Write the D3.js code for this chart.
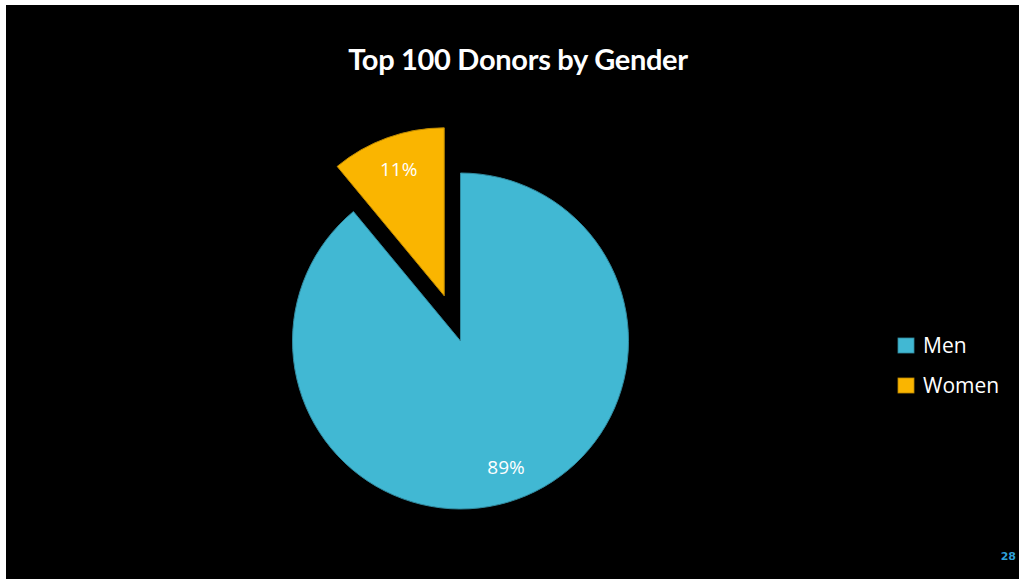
<!DOCTYPE html>
<html>
<head>
<meta charset="utf-8">
<script src="https://cdn.jsdelivr.net/npm/d3@7"></script>
<style>
  html, body { margin: 0; padding: 0; background: #ffffff; }
  svg { display: block; }
</style>
</head>
<body>
<svg id="chart" width="1019" height="579"></svg>
<script>
// Gender split of the top 100 donors
const categories = ["Men", "Women"];
const shares = [89, 11];
const sliceColors = ["#41B8D3", "#FAB500"];
const titleText = "Top 100 Donors by Gender";
const pageNumber = "28";

const W = 1019, H = 579;
const svg = d3.select("#chart");

// slide background
svg.append("rect").attr("x", 6).attr("y", 5).attr("width", W - 6).attr("height", H - 5).attr("fill", "#000");

svg.append("text")
  .attr("x", 518).attr("y", 70)
  .attr("text-anchor", "middle")
  .attr("font-family", "Lato, 'Open Sans', sans-serif")
  .attr("font-weight", "bold")
  .attr("font-size", 29)
  .attr("letter-spacing", -0.3)
  .attr("fill", "#fff")
  .text(titleText);

const cx = 460.5, cy = 341, r = 168, explode = 48;
const data = categories.map((c, i) => ({ name: c, value: shares[i], color: sliceColors[i] }));

const pie = d3.pie().sort(null).value(d => d.value);
const arc = d3.arc().innerRadius(0).outerRadius(r);
const labelArc = d3.arc().innerRadius(r * 0.8).outerRadius(r * 0.8);
const arcs = pie(data);

const g = svg.append("g").attr("transform", `translate(${cx},${cy})`);

const slice = g.selectAll("g.slice").data(arcs).enter().append("g")
  .attr("class", "slice")
  .attr("transform", d => {
    // pull the smaller slice out from the centre
    if (d.data.name !== "Women") return null;
    const mid = (d.startAngle + d.endAngle) / 2;
    return `translate(${Math.sin(mid) * explode},${-Math.cos(mid) * explode})`;
  });

slice.append("path")
  .attr("d", arc)
  .attr("fill", d => d.data.color)
  .attr("stroke", d => d3.color(d.data.color).darker(0.8))
  .attr("stroke-width", 1);

slice.append("text")
  .attr("transform", d => `translate(${labelArc.centroid(d)})`)
  .attr("text-anchor", "middle")
  .attr("dy", "0.35em")
  .attr("font-family", "'Open Sans', 'DejaVu Sans', sans-serif")
  .attr("font-size", 19)
  .attr("fill", "#fff")
  .text(d => d.data.value + "%");

// legend
const legend = svg.append("g").attr("transform", "translate(898,338)");
const item = legend.selectAll("g").data(data).enter().append("g")
  .attr("transform", (d, i) => `translate(0,${i * 40})`);
item.append("rect")
  .attr("width", 16).attr("height", 15)
  .attr("fill", d => d.color)
  .attr("stroke", d => d3.color(d.color).darker(0.8))
  .attr("stroke-width", 0.8);
item.append("text")
  .attr("x", 25).attr("y", 15)
  .attr("font-family", "'Open Sans', 'DejaVu Sans', sans-serif")
  .attr("font-size", 21)
  .attr("fill", "#fff")
  .text(d => d.name);

svg.append("text")
  .attr("x", 1016).attr("y", 560)
  .attr("text-anchor", "end")
  .attr("font-family", "'DejaVu Sans', sans-serif")
  .attr("font-weight", "bold")
  .attr("font-size", 11)
  .attr("fill", "#2E9FD8")
  .text(pageNumber);
</script>
</body>
</html>
